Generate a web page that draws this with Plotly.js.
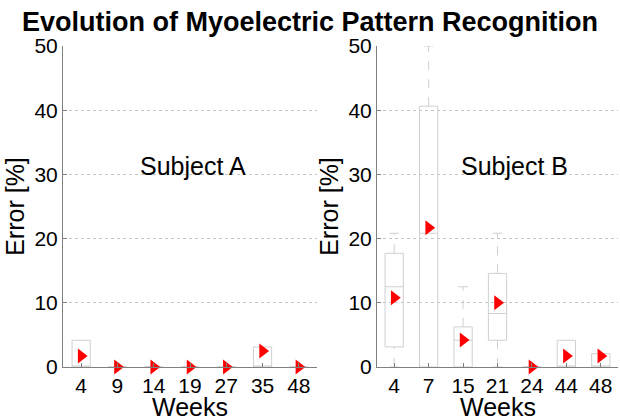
<!DOCTYPE html>
<html>
<head>
<meta charset="utf-8">
<script src="https://cdn.plot.ly/plotly-3.0.1.min.js"></script>
<style>html,body{margin:0;padding:0;background:#fff;}#chart{width:620px;height:419px;}</style>
</head>
<body>
<div id="chart"></div>
<script>
// Subject A
var weeksA = ['4', '9', '14', '19', '27', '35', '48'];
var q1A    = [0, 0, 0, 0, 0, 0, 0];
var medA   = [0, 0, 0, 0, 0, 0, 0];
var q3A    = [4.17, 0, 0, 0, 0, 3.13, 0];
var loA    = [0, 0, 0, 0, 0, 0, 0];
var hiA    = [4.17, 0, 0, 0, 0, 3.13, 0];
var meanA  = [1.7, 0, 0, 0, 0, 2.5, 0];

// Subject B
var weeksB = ['4', '7', '15', '21', '24', '44', '48'];
var q1B    = [3.13, 0, 0, 4.17, 0, 0, 0];
var medB   = [12.5, 20.83, 4.17, 8.33, 0, 0, 0];
var q3B    = [17.71, 40.63, 6.25, 14.58, 0, 4.17, 2.08];
var loB    = [0, 0, 0, 0, 0, 0, 0];
var hiB    = [20.83, 50, 12.5, 20.83, 0, 4.17, 2.08];
var meanB  = [10.8, 21.7, 4.2, 10.0, 0, 1.7, 1.7];

var FONT = '"Liberation Sans", Arial, sans-serif';
var BOXC = '#d0d0d0';

function idx(arr){ return arr.map(function(_, i){ return i; }); }

function panelTraces(weeks, q1, med, q3, lo, hi, mean, xa, ya, bw){
  var pos = idx(weeks);
  var box = {
    type: 'box', x: pos, q1: q1, median: med, q3: q3,
    lowerfence: q1, upperfence: q3,
    boxpoints: false, whiskerwidth: 0, width: bw,
    line: {color: BOXC, width: 1}, fillcolor: 'rgba(255,255,255,0)',
    xaxis: xa, yaxis: ya, hoverinfo: 'skip', showlegend: false
  };
  var wx = [], wy = [], cx = [], cy = [];
  var cw = 0.14;
  pos.forEach(function(i){
    if (hi[i] > q3[i]) {
      wx.push(i, i, null); wy.push(q3[i], hi[i], null);
      cx.push(i - cw, i + cw, null); cy.push(hi[i], hi[i], null);
    }
    if (lo[i] < q1[i]) {
      wx.push(i, i, null); wy.push(lo[i], q1[i], null);
      cx.push(i - cw, i + cw, null); cy.push(lo[i], lo[i], null);
    }
  });
  var whisk = {type: 'scatter', mode: 'lines', x: wx, y: wy,
    line: {color: BOXC, width: 1, dash: 'dash'}, xaxis: xa, yaxis: ya,
    hoverinfo: 'skip', showlegend: false};
  var caps = {type: 'scatter', mode: 'lines', x: cx, y: cy,
    line: {color: BOXC, width: 1}, xaxis: xa, yaxis: ya,
    hoverinfo: 'skip', showlegend: false};
  var means = {type: 'scatter', mode: 'markers', x: pos, y: mean,
    marker: {symbol: 'triangle-right', color: '#ff0000', size: 13, line: {width: 0}},
    cliponaxis: false, xaxis: xa, yaxis: ya, showlegend: false};
  return [box, whisk, caps, means];
}

var data = [].concat(
  panelTraces(weeksA, q1A, medA, q3A, loA, hiA, meanA, 'x', 'y', 0.5),
  panelTraces(weeksB, q1B, medB, q3B, loB, hiB, meanB, 'x2', 'y2', 0.53)
);

function xaxis(weeks, domain, anchor){
  return {
    domain: domain, anchor: anchor, range: [-0.5, 6.5],
    tickmode: 'array', tickvals: idx(weeks), ticktext: weeks,
    showgrid: false, zeroline: false, showline: true, linecolor: '#808080', linewidth: 1,
    ticks: 'inside', ticklen: 4, tickcolor: '#808080',
    tickfont: {family: FONT, size: 21, color: '#000'},
    automargin: false, fixedrange: true
  };
}
function yaxis(anchor){
  return {
    anchor: anchor, domain: [0, 1], range: [0, 50],
    tickvals: [0, 10, 20, 30, 40, 50],
    showgrid: true, gridcolor: '#c4c4c4', griddash: 'dot', gridwidth: 1,
    zeroline: false, showline: true, linecolor: '#808080', linewidth: 1,
    ticks: 'inside', ticklen: 4, tickcolor: '#808080',
    tickfont: {family: FONT, size: 21, color: '#000'},
    title: {text: 'Error [%]', font: {family: FONT, size: 25, color: '#000'}, standoff: 2},
    automargin: false, fixedrange: true
  };
}

var TF = {family: FONT, size: 25, color: '#000'};
var layout = {
  width: 620, height: 419,
  margin: {l: 0, r: 0, t: 46, b: 52},
  paper_bgcolor: '#fff', plot_bgcolor: '#fff',
  font: {family: FONT, color: '#000'},
  title: {text: '<b>Evolution of Myoelectric Pattern Recognition</b>',
    font: {family: FONT, size: 27, color: '#000'}, x: 0.5, xanchor: 'center', y: 0.97, yanchor: 'top'},
  showlegend: false,
  xaxis: xaxis(weeksA, [63/620, 317/620], 'y'),
  yaxis: yaxis('x'),
  xaxis2: xaxis(weeksB, [377/620, 618/620], 'y2'),
  yaxis2: yaxis('x2'),
  annotations: [
    {text: 'Subject A', xref: 'x domain', yref: 'y', x: 0.51, y: 31.3, showarrow: false, font: TF},
    {text: 'Subject B', xref: 'x2 domain', yref: 'y2', x: 0.57, y: 31.3, showarrow: false, font: TF},
    {text: 'Weeks', xref: 'x domain', yref: 'paper', x: 0.5, y: -0.125, yanchor: 'middle', showarrow: false, font: TF},
    {text: 'Weeks', xref: 'x2 domain', yref: 'paper', x: 0.5, y: -0.125, yanchor: 'middle', showarrow: false, font: TF}
  ]
};

Plotly.newPlot('chart', data, layout, {staticPlot: true, displayModeBar: false});
</script>
</body>
</html>
